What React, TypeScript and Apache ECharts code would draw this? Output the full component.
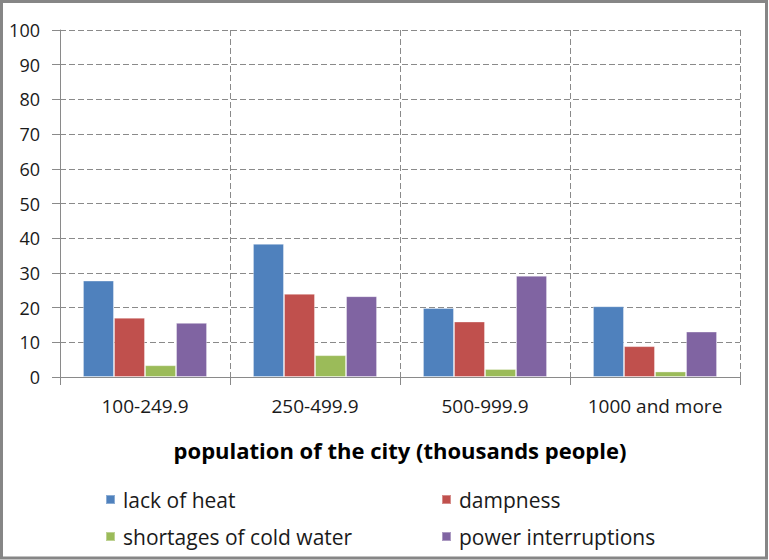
import React, { useEffect, useRef } from "react";
import * as echarts from "echarts";

const categories = ["100-249.9", "250-499.9", "500-999.9", "1000 and more"];
const seriesNames = ["lack of heat", "dampness", "shortages of cold water", "power interruptions"];
const lackOfHeat = [27.8, 38.4, 19.9, 20.4];
const dampness = [17.1, 24.0, 16.0, 8.9];
const coldWater = [3.4, 6.3, 2.3, 1.6];
const powerInterruptions = [15.6, 23.3, 29.2, 13.1];
const colors = ["#4F81BD", "#C0504D", "#9BBB59", "#8064A2"];
const axisTitle = "population of the city (thousands people)";

const FONT = "Open Sans";
const GRID_COLOR = "#8a8a8a";

export default function App() {
  const ref = useRef<HTMLDivElement>(null);
  useEffect(() => {
    if (!ref.current) return;
    const chart = echarts.init(ref.current, null, { renderer: "svg" });
    const values = [lackOfHeat, dampness, coldWater, powerInterruptions];
    const legendPos = [
      { left: 105, top: 489 },
      { left: 441, top: 489 },
      { left: 105, top: 526 },
      { left: 441, top: 526 },
    ];
    chart.setOption({
      animation: false,
      textStyle: { fontFamily: FONT },
      grid: { left: 60, right: 29, top: 30, height: 347 },
      xAxis: {
        type: "category",
        data: categories,
        name: axisTitle,
        nameLocation: "middle",
        nameGap: 62,
        nameTextStyle: { fontFamily: FONT, fontWeight: "bold", fontSize: 22, color: "#000" },
        axisLine: { show: true, lineStyle: { color: GRID_COLOR, width: 1 } },
        axisTick: { show: true, length: 8, interval: 0, lineStyle: { color: GRID_COLOR } },
        axisLabel: { margin: 19, fontSize: 19, color: "#1a1a1a", fontFamily: FONT, interval: 0 },
        splitLine: { show: true, interval: 0, lineStyle: { color: GRID_COLOR, type: [6, 3], width: 1 } },
      },
      yAxis: {
        type: "value",
        min: 0,
        max: 100,
        interval: 10,
        axisLine: { show: true, lineStyle: { color: GRID_COLOR, width: 1 } },
        axisTick: { show: true, length: 8, lineStyle: { color: GRID_COLOR } },
        axisLabel: { margin: 20, fontSize: 18, color: "#1a1a1a", fontFamily: FONT },
        splitLine: { show: true, lineStyle: { color: GRID_COLOR, type: [6, 3], width: 1 } },
      },
      legend: seriesNames.map((n, i) => ({
        data: [n],
        left: legendPos[i].left,
        top: legendPos[i].top,
        padding: 0,
        icon: "rect",
        itemWidth: 9,
        itemHeight: 9,
        itemGap: 6,
        textStyle: { fontSize: 21, color: "#1a1a1a", fontFamily: FONT, padding: [0, 0, 0, 3] },
        selectedMode: false,
      })),
      series: seriesNames.map((n, i) => ({
        name: n,
        type: "bar",
        data: values[i],
        barGap: "0%",
        barCategoryGap: "27%",
        itemStyle: { color: colors[i], borderColor: "rgba(255,255,255,0.35)", borderWidth: 1 },
      })),
      graphic: [
        {
          type: "rect",
          shape: { x: 1.5, y: 1.5, width: 765, height: 556.5 },
          style: { fill: "none", stroke: "#868686", lineWidth: 3 },
          silent: true,
        },
      ],
    });
    return () => chart.dispose();
  }, []);
  return (
    <div
      ref={ref}
      style={{ position: "absolute", left: 0, top: 0, width: 769, height: 560, background: "#fff" }}
    />
  );
}
